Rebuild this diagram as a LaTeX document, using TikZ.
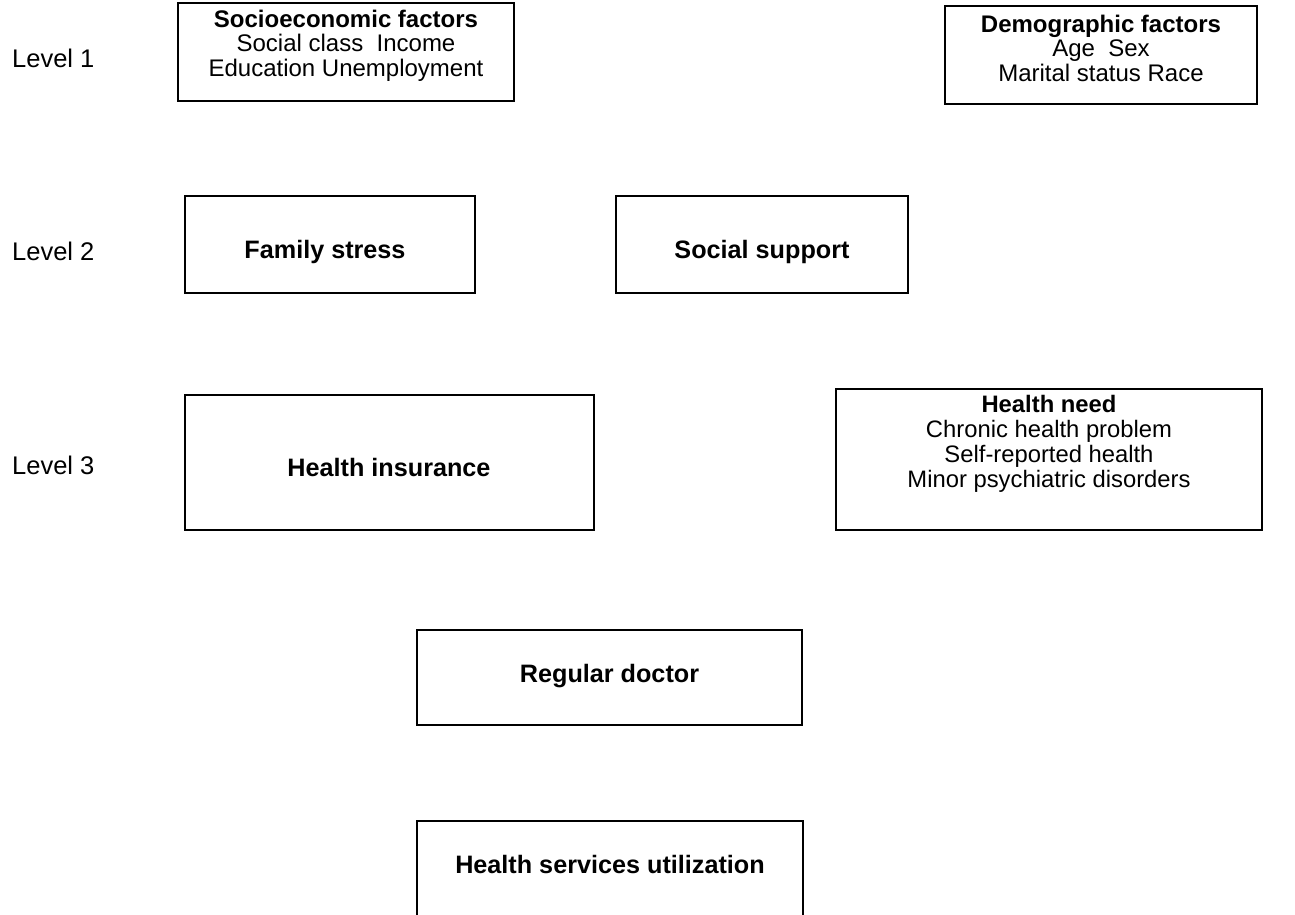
\documentclass[tikz,border=0pt]{standalone}
\usepackage{fontspec}
\setmainfont{Liberation Sans}
\begin{document}
\begin{tikzpicture}[x=1pt,y=-1pt,
  box/.style={draw=black,line width=1.6pt,rectangle,inner sep=0pt},
  txt/.style={align=center,inner sep=0pt,font=\fontsize{24}{24.5}\selectfont},
  big/.style={align=center,inner sep=0pt,font=\fontsize{25.2}{25.2}\selectfont\bfseries},
  lvl/.style={anchor=west,inner sep=0pt,font=\fontsize{25.5}{25.5}\selectfont}]
\useasboundingbox (0,0) rectangle (1295,915);
\clip (0,0) rectangle (1295,915);
% Level labels
\node[lvl] (l1) at (12,58) {Level 1};
\node[lvl] (l2) at (12,251) {Level 2};
\node[lvl] (l3) at (12,465) {Level 3};
% boxes
\node[box,minimum width=336pt,minimum height=98pt] (socio) at (346,52) {};
\node[txt] (sociot) at (346,45.5) {\textbf{Socioeconomic factors}\\Social class\ \ Income\\Education Unemployment};
\node[box,minimum width=312pt,minimum height=98pt] (demo) at (1101,55) {};
\node[txt] (demot) at (1101,48) {\textbf{Demographic factors}\\Age\ \ Sex\\Marital status Race};
\node[box,minimum width=290pt,minimum height=97pt] (family) at (330,244.5) {};
\node[big] (familyt) at (325,252) {Family stress};
\node[box,minimum width=292pt,minimum height=97pt] (support) at (762,244.5) {};
\node[big] (supportt) at (762,252) {Social support};
\node[box,minimum width=409pt,minimum height=135pt] (insur) at (389.5,462.5) {};
\node[big] (insurt) at (389,467) {Health insurance};
\node[box,minimum width=426pt,minimum height=141pt] (need) at (1049,459.5) {};
\node[txt,font=\fontsize{23.8}{25}\selectfont] (needt) at (1049,443.5) {\textbf{Health need}\\Chronic health problem\\Self-reported health\\Minor psychiatric disorders};
\node[box,minimum width=385pt,minimum height=95pt] (doctor) at (609.5,677.5) {};
\node[big] (doctort) at (609.5,676) {Regular doctor};
\node[box,minimum width=386pt,minimum height=130pt] (util) at (610,886) {};
\node[big] (utilt) at (610,864) {Health services utilization};
\end{tikzpicture}
\end{document}
